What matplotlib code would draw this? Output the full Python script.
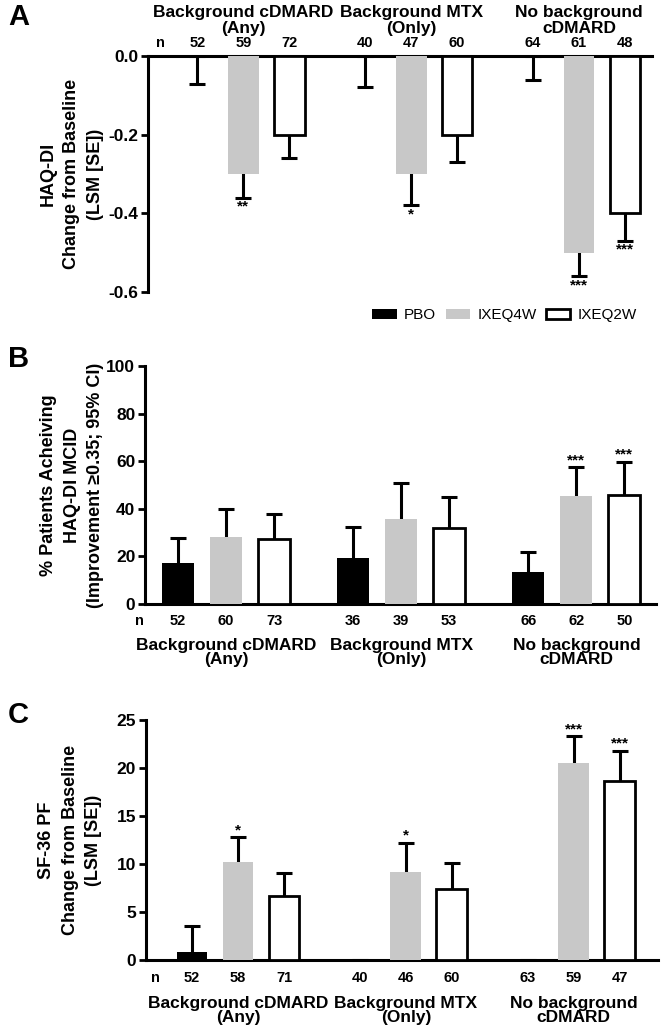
import matplotlib
matplotlib.use("Agg")
import matplotlib.pyplot as plt
from matplotlib.patches import Patch
from matplotlib.transforms import blended_transform_factory

plt.rcParams['font.family'] = ['Liberation Sans', 'DejaVu Sans']
plt.rcParams['font.weight'] = 'bold'

grupos = ["Background cDMARD\n(Any)", "Background MTX\n(Only)", "No background\ncDMARD"]
tratamientos = ["PBO", "IXEQ4W", "IXEQ2W"]

# Panel A: HAQ-DI cambio desde basal (LSM, SE)
a_n = [[52, 59, 72], [40, 47, 60], [64, 61, 48]]
a_lsm = [[0.0, -0.30, -0.20], [0.0, -0.30, -0.20], [0.0, -0.50, -0.40]]
a_se = [[0.07, 0.06, 0.06], [0.08, 0.08, 0.07], [0.06, 0.06, 0.07]]
a_sig = [["", "**", ""], ["", "*", ""], ["", "***", "***"]]

# Panel B: % pacientes que alcanzan MCID (IC 95% superior)
b_n = [[52, 60, 73], [36, 39, 53], [66, 62, 50]]
b_pct = [[17.3, 28.3, 27.2], [19.2, 35.8, 31.8], [13.5, 45.2, 45.9]]
b_ci_hi = [[27.6, 39.7, 37.9], [32.4, 50.9, 44.9], [21.9, 57.5, 59.7]]
b_sig = [["", "", ""], ["", "", ""], ["", "***", "***"]]

# Panel C: SF-36 PF cambio desde basal (LSM, SE)
c_n = [[52, 58, 71], [40, 46, 60], [63, 59, 47]]
c_lsm = [[0.8, 10.2, 6.7], [-0.5, 9.2, 7.4], [-0.5, 20.5, 18.6]]
c_se = [[2.7, 2.6, 2.4], [2.5, 3.0, 2.7], [2.5, 2.8, 3.2]]
c_sig = [["", "*", ""], ["", "*", ""], ["", "***", "***"]]

colores = ["black", "#c8c8c8", "white"]
bordes = ["black", "#c8c8c8", "black"]
centros = [0, 3.65, 7.3]
ancho = 0.67

fig = plt.figure(figsize=(6.61, 10.31), dpi=100)

def panel(rect, valores, errores, ns, sig, xlim, ylim, yticks, yfmt, ylabel, arriba, ylab_x, ygrupo):
    ax = fig.add_axes(rect)
    sentido = -1 if arriba else 1
    for g in range(3):
        for i in range(3):
            x = centros[g] + (i - 1)
            v = valores[g][i]
            e = errores[g][i]
            d = sentido if v == 0 else (1 if v > 0 else -1)
            oculto = min(e, abs(v))  # parte tapada por la barra
            yerr = [[oculto], [e]] if d > 0 else [[e], [oculto]]
            ax.bar(x, v, width=ancho, color=colores[i], edgecolor=bordes[i],
                   linewidth=2 if i == 2 else 0, zorder=3)
            ax.errorbar(x, v, yerr=yerr, fmt="none", ecolor="black", elinewidth=2.2,
                        capsize=6, capthick=2.2, zorder=2)
            if sig[g][i]:
                if d < 0:
                    ax.text(x, v - e - 0.005, sig[g][i], ha="center", va="top", fontsize=11)
                else:
                    ax.text(x, v + e, sig[g][i], ha="center", va="bottom", fontsize=11)
    ax.set_xlim(*xlim)
    ax.set_ylim(*ylim)
    ax.set_yticks(yticks)
    ax.set_yticklabels([yfmt.format(t) for t in yticks], fontsize=12.5)
    ax.set_xticks([])
    ax.tick_params(axis="y", width=2, length=5, pad=2)
    for s in ax.spines.values():
        s.set_linewidth(2.2)
    ax.spines["right"].set_visible(False)
    if arriba:
        ax.spines["bottom"].set_visible(False)
    else:
        ax.spines["top"].set_visible(False)
    ax.set_ylabel(ylabel, fontsize=13, fontweight="bold", linespacing=1.5)
    ax.yaxis.set_label_coords(ylab_x, 0.5)
    tr = blended_transform_factory(ax.transData, ax.transAxes)
    yn = 1.055 if arriba else -0.073
    ax.text(centros[0] - 1.8, yn, "n", transform=tr, ha="center", va="center", fontsize=10.5)
    for g in range(3):
        for i in range(3):
            ax.text(centros[g] + (i - 1), yn, str(ns[g][i]), transform=tr,
                    ha="center", va="center", fontsize=10.5)
        if arriba:
            ax.text(centros[g], ygrupo, grupos[g], transform=tr, ha="center", va="bottom",
                    fontsize=12.5, linespacing=1.1)
        else:
            ax.text(centros[g], ygrupo, grupos[g], transform=tr, ha="center", va="top",
                    fontsize=12.5, linespacing=0.95)
    return ax

axA = panel([0.224, 0.7168, 0.7625, 0.2289], a_lsm, a_se, a_n, a_sig,
            (-2.07, 8.89), (-0.6, 0.0), [0.0, -0.2, -0.4, -0.6], "{:.1f}",
            "HAQ-DI\nChange from Baseline\n(LSM [SE])", True, -0.088, 1.085)

b_err = [[b_ci_hi[g][i] - b_pct[g][i] for i in range(3)] for g in range(3)]
axB = panel([0.2194, 0.4142, 0.773, 0.2308], b_pct, b_err, b_n, b_sig,
            (-1.69, 8.96), (0, 100), [0, 20, 40, 60, 80, 100], "{:d}",
            "% Patients Acheiving\nHAQ-DI MCID\n(Improvement \u22650.35; 95% CI)", False, -0.08, -0.143)

axC = panel([0.2203, 0.0688, 0.775, 0.2328], c_lsm, c_se, c_n, c_sig,
            (-2.01, 9.13), (0, 25), [0, 5, 10, 15, 20, 25], "{:d}",
            "SF-36 PF\nChange from Baseline\n(LSM [SE])", False, -0.085, -0.15)

for letra, yl in [("A", 0.997), ("B", 0.665), ("C", 0.32)]:
    fig.text(0.012, yl, letra, fontsize=21, fontweight="bold", va="top")

manejadores = [Patch(facecolor=colores[i], edgecolor=bordes[i],
                     linewidth=2 if i == 2 else 0, label=tratamientos[i]) for i in range(3)]
fig.legend(handles=manejadores, loc="center right", bbox_to_anchor=(0.985, 0.694),
           ncol=3, frameon=False, handlelength=1.6, handleheight=0.6, handletextpad=0.5,
           columnspacing=0.6, prop={"weight": "normal", "size": 11})

plt.savefig("out.png", dpi=100)
